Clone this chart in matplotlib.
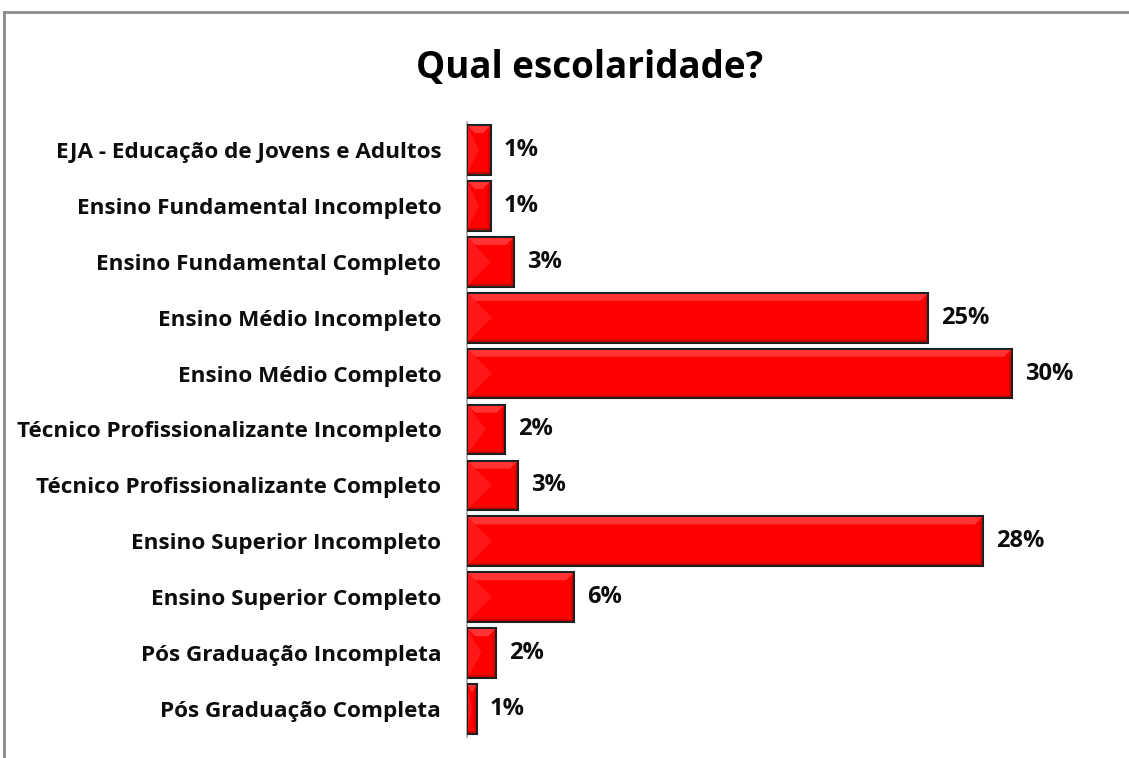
import numpy as np
import matplotlib
matplotlib.use("Agg")
import matplotlib.pyplot as plt
from matplotlib.patches import Polygon
from matplotlib.lines import Line2D

# data (top to bottom as drawn)
categories = [
    "EJA - Educação de Jovens e Adultos",
    "Ensino Fundamental Incompleto",
    "Ensino Fundamental Completo",
    "Ensino Médio Incompleto",
    "Ensino Médio Completo",
    "Técnico Profissionalizante Incompleto",
    "Técnico Profissionalizante Completo",
    "Ensino Superior Incompleto",
    "Ensino Superior Completo",
    "Pós Graduação Incompleta",
    "Pós Graduação Completa",
]
values = [1.32, 1.30, 2.59, 25.4, 30.0, 2.09, 2.81, 28.4, 5.89, 1.60, 0.55]
pct_labels = ["1%", "1%", "3%", "25%", "30%", "2%", "3%", "28%", "6%", "2%", "1%"]

FONT = "Open Sans"
W, H = 1129, 758

fig = plt.figure(figsize=(W / 100, H / 100), dpi=100)
ax = fig.add_axes([467 / W, 1 - 737 / H, (1100 - 467) / W, (737 - 122) / H])

y = np.arange(len(categories))
bh = 0.89
ax.barh(y, values, height=bh, color="#ff0000", edgecolor="none", zorder=3)

ax.set_xlim(0, (1100 - 467) / 545 * 30)
ax.set_ylim(len(categories) - 0.5, -0.5)

# bevel look: light top and left wedge, thin dark bottom/right
fig.canvas.draw()
px_x = ax.transData.transform((1, 0))[0] - ax.transData.transform((0, 0))[0]
px_y = abs(ax.transData.transform((0, 1))[1] - ax.transData.transform((0, 0))[1])
for yi, v in zip(y, values):
    x0, x1 = 0, v
    t, b = yi - bh / 2, yi + bh / 2
    ym = yi
    dxl = min(25 / px_x, v / 2)
    dxt = min(8 / px_x, v / 2)
    dyt = 8 / px_y
    dxb = min(3 / px_x, v / 2)
    dyb = 3 / px_y
    faces = [
        ([(x0, t), (x0 + dxl, ym), (x0, b)], "#ff1717"),
        ([(x0, t), (x1, t), (x1 - dxt, t + dyt), (x0 + dxt, t + dyt)], "#ff3333"),
        ([(x0, b), (x1, b), (x1 - dxb, b - dyb), (x0 + dxb, b - dyb)], "#c80000"),
        ([(x1, t), (x1, b), (x1 - dxb, b - dyb), (x1 - dxb, t + dyt)], "#d40000"),
    ]
    for pts, c in faces:
        ax.add_patch(Polygon(pts, closed=True, facecolor=c, edgecolor="none", zorder=3.5))
    ax.add_patch(Polygon([(x0, t), (x1, t), (x1, b), (x0, b)], closed=True,
                         facecolor="none", edgecolor="#1f1f1f", linewidth=1.5,
                         joinstyle="miter", zorder=4))

for yi, v, lab in zip(y, values, pct_labels):
    ax.annotate(lab, (v, yi), xytext=(13, 0), textcoords="offset pixels",
                ha="left", va="center", fontsize=17, fontweight="bold",
                family=FONT, color="#0d0d0d")

ax.set_yticks(y)
ax.set_yticklabels(categories, fontsize=16.2, fontweight="bold", family=FONT, color="#0d0d0d")
ax.tick_params(axis="y", length=0, pad=18.5)
ax.set_xticks([])
for s in ["top", "right", "bottom"]:
    ax.spines[s].set_visible(False)
ax.spines["left"].set_color("#a6a6a6")
ax.spines["left"].set_linewidth(1.2)

fig.text(590 / W, 1 - 68 / H, "Qual escolaridade?", ha="center", va="center",
         fontsize=26.5, fontweight="bold", family=FONT, color="#000000")

# outer chart frame (only top and left edges are visible in the crop)
fig.add_artist(Line2D([4 / W, 4 / W], [0, 1 - 12 / H], transform=fig.transFigure,
                      color="#8c8c8c", linewidth=2))
fig.add_artist(Line2D([4 / W, 1], [1 - 12 / H, 1 - 12 / H], transform=fig.transFigure,
                      color="#8c8c8c", linewidth=2))

fig.savefig("out.png", dpi=100)
